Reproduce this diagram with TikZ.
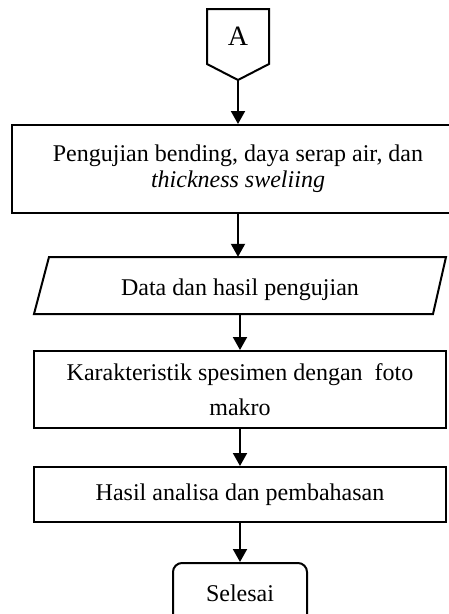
\documentclass[tikz,border=0pt]{standalone}
\usepackage{fontspec}
\setmainfont{Liberation Serif}
\usetikzlibrary{arrows.meta}
\tikzset{
  every node/.style={font=\fontsize{24}{22}\selectfont},
  box/.style={draw, line width=2pt, rectangle, inner sep=0pt, align=center},
  plain/.style={inner sep=0pt, align=center},
  flow/.style={line width=2pt, -{Triangle[width=14pt,length=13pt]}},
  shapeline/.style={line width=2pt, line join=miter}
}
\begin{document}
\begin{tikzpicture}[x=1pt,y=-1pt]
\useasboundingbox (0,0) rectangle (449,614);
\clip (0,0) rectangle (449,614);
% off-page connector A
\draw[shapeline] (207,9) -- (269,9) -- (269,64) -- (238,80) -- (207,64) -- cycle;
\node[plain, anchor=base, font=\fontsize{28}{28}\selectfont] (A) at (238,45.5) {A};
\coordinate (Atip) at (238,80);
% box 1
\node[box, minimum width=452pt, minimum height=88pt] (b1) at (238,169)
  {Pengujian bending, daya serap air, dan\\[4pt]\itshape thickness sweliing};
% parallelogram
\node[plain, minimum width=399pt, minimum height=57pt, text height=22pt, text depth=2.8pt] (data) at (240,285.5) {Data dan hasil pengujian};
\draw[shapeline] (49,257) -- (446,257) -- (433,314) -- (34,314) -- cycle;
% box 3
\node[box, minimum width=412pt, minimum height=77pt] (b3) at (240,389.5)
  {Karakteristik spesimen dengan\ \ foto\\[13pt]makro};
% box 4
\node[box, minimum width=412pt, minimum height=55pt] (b4) at (240,494.5)
  {Hasil analisa dan pembahasan};
% terminator
\node[box, rounded corners=9pt, minimum width=134pt, minimum height=62pt] (end) at (240,594)
  {\raisebox{2pt}{Selesai}};
% connectors
\draw[flow] (Atip) -- (b1.north);
\draw[flow] (b1.south) -- (b1.south |- data.north);
\draw[flow] (data.south) -- (b3.north);
\draw[flow] (b3.south) -- (b4.north);
\draw[flow] (b4.south) -- (end.north);
\end{tikzpicture}
\end{document}
